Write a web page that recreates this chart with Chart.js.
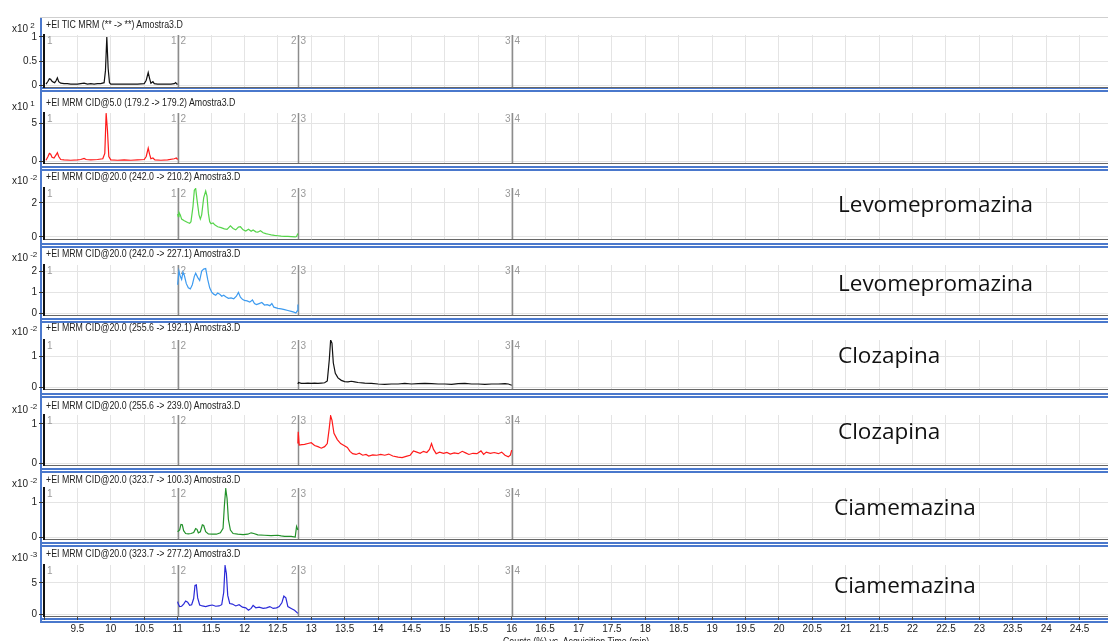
<!DOCTYPE html>
<html><head><meta charset="utf-8">
<script src="https://cdn.jsdelivr.net/npm/chart.js@4.4.0/dist/chart.umd.min.js"></script>
<style>
html,body{margin:0;padding:0;background:#fff;overflow:hidden;width:1108px;height:641px;}
#wrap{position:relative;width:1108px;height:641px;overflow:hidden;background:#fff;}
canvas{position:absolute;left:0;}
.hdr{position:absolute;left:46px;font-size:10px;font-family:"Liberation Sans",Arial,sans-serif;color:#222;white-space:nowrap;line-height:12px;transform:scaleX(0.88);transform-origin:0 0;}
.exp{position:absolute;left:12px;font-size:10px;font-family:"Liberation Sans",Arial,sans-serif;color:#222;white-space:nowrap;line-height:12px;}
.exp sup{font-size:8px;vertical-align:4px;margin-left:2px;}
.cmp{position:absolute;font-family:"Open Sans",sans-serif;font-size:22.5px;color:#111;white-space:nowrap;line-height:26px;}
.hl{position:absolute;left:40px;width:1100px;height:2px;background:#4a78cc;}
.vl{position:absolute;left:40px;width:2px;top:17px;height:604px;background:#4a78cc;}
.xt{position:absolute;left:503px;top:636px;font-size:10px;font-family:"Liberation Sans",Arial,sans-serif;color:#222;white-space:nowrap;transform:scaleX(0.88);transform-origin:0 0;}
</style>
</head><body>
<div id="wrap"></div>
<script>
// ---------- DATA ----------
const timeMin = 9, timeMax = 25, timeStep = 0.5;
const segmentBounds = [11, 12.8, 16];
const panelTitles = [
  '+EI TIC MRM (** -> **) Amostra3.D',
  '+EI MRM CID@5.0 (179.2 -> 179.2) Amostra3.D',
  '+EI MRM CID@20.0 (242.0 -> 210.2) Amostra3.D',
  '+EI MRM CID@20.0 (242.0 -> 227.1) Amostra3.D',
  '+EI MRM CID@20.0 (255.6 -> 192.1) Amostra3.D',
  '+EI MRM CID@20.0 (255.6 -> 239.0) Amostra3.D',
  '+EI MRM CID@20.0 (323.7 -> 100.3) Amostra3.D',
  '+EI MRM CID@20.0 (323.7 -> 277.2) Amostra3.D'
];
const scaleExponents = ['2', '1', '-2', '-2', '-2', '-2', '-2', '-3'];
const yTickValues = [[0, 0.5, 1], [0, 5], [0, 2], [0, 1, 2], [0, 1], [0, 1], [0, 1], [0, 5]];
const compoundNames = ['', '', 'Levomepromazina', 'Levomepromazina', 'Clozapina', 'Clozapina', 'Ciamemazina', 'Ciamemazina'];
const xAxisTitle = 'Counts (%) vs. Acquisition Time (min)';

const ticTime = [9.03,9.06,9.08,9.1,9.12,9.14,9.16,9.18,9.2,9.22,9.25,9.3,9.35,9.4,9.5,9.55,9.6,9.65,9.7,9.75,9.8,9.85,9.9,9.92,9.94,9.96,9.98,10.0,10.1,10.2,10.3,10.4,10.5,10.53,10.56,10.58,10.6,10.63,10.65,10.7,10.8,10.9,10.95,10.97,10.99,11.0];
const ticCounts = [0.02,0.08,0.13,0.12,0.08,0.06,0.05,0.09,0.15,0.07,0.04,0.03,0.03,0.02,0.02,0.03,0.04,0.02,0.03,0.02,0.03,0.03,0.05,0.3,1.0,0.35,0.05,0.02,0.02,0.02,0.02,0.02,0.03,0.1,0.26,0.14,0.04,0.07,0.03,0.02,0.02,0.02,0.03,0.05,0.02,0.02];

const m179Time = [9.03,9.06,9.08,9.1,9.12,9.15,9.18,9.2,9.22,9.25,9.3,9.4,9.5,9.55,9.6,9.63,9.7,9.8,9.88,9.91,9.93,9.95,9.97,10.0,10.1,10.2,10.3,10.4,10.5,10.53,10.56,10.58,10.6,10.63,10.66,10.75,10.85,10.95,10.98,11.0];
const m179Counts = [0.1,0.6,1.0,0.9,0.5,0.4,0.8,1.1,0.6,0.2,0.15,0.1,0.15,0.2,0.35,0.2,0.15,0.2,0.3,1.0,6.3,4.0,0.6,0.15,0.1,0.15,0.1,0.15,0.2,0.6,1.7,0.9,0.3,0.4,0.15,0.1,0.15,0.3,0.4,0.2];

const m210Time = [11.0,11.01,11.02,11.04,11.06,11.1,11.15,11.18,11.2,11.23,11.25,11.27,11.29,11.32,11.34,11.36,11.39,11.42,11.44,11.46,11.48,11.5,11.53,11.56,11.6,11.65,11.7,11.74,11.79,11.83,11.87,11.91,11.94,11.98,12.02,12.06,12.1,12.13,12.17,12.2,12.24,12.28,12.32,12.36,12.4,12.45,12.5,12.55,12.6,12.65,12.7,12.76,12.78,12.8];
const m210Counts = [1.35,1.2,1.45,1.3,1.05,0.95,0.85,0.8,0.9,1.8,2.75,2.85,2.2,1.3,1.05,1.3,2.3,2.7,2.4,1.4,0.9,0.78,0.82,0.7,0.6,0.55,0.48,0.45,0.65,0.5,0.42,0.58,0.6,0.42,0.35,0.45,0.33,0.41,0.3,0.28,0.37,0.25,0.2,0.16,0.12,0.09,0.07,0.05,0.04,0.03,0.02,0.0,0.03,0.2];

const m227Time = [11.0,11.02,11.04,11.06,11.08,11.1,11.13,11.16,11.19,11.22,11.25,11.27,11.3,11.33,11.36,11.39,11.42,11.45,11.48,11.51,11.54,11.57,11.6,11.63,11.66,11.69,11.72,11.76,11.8,11.84,11.88,11.91,11.94,11.97,12.0,12.04,12.08,12.12,12.15,12.18,12.22,12.26,12.3,12.34,12.38,12.41,12.44,12.5,12.55,12.6,12.65,12.7,12.74,12.77,12.79,12.8];
const m227Counts = [1.35,2.0,1.75,1.6,1.95,1.8,1.4,1.2,1.15,1.35,1.75,1.9,1.7,1.55,2.0,2.1,2.12,1.6,1.2,1.0,0.9,0.85,0.95,0.9,0.8,0.85,0.78,0.7,0.72,0.68,0.8,0.98,0.75,0.65,0.6,0.58,0.52,0.62,0.45,0.4,0.45,0.5,0.38,0.4,0.35,0.45,0.28,0.22,0.2,0.16,0.12,0.08,0.04,0.0,0.1,0.4];

const m192Time = [12.8,12.81,12.85,12.9,12.95,13.0,13.05,13.1,13.15,13.2,13.24,13.27,13.29,13.31,13.33,13.36,13.4,13.45,13.5,13.55,13.6,13.65,13.7,13.8,13.9,14.0,14.1,14.2,14.3,14.4,14.5,14.6,14.7,14.8,14.9,15.0,15.1,15.2,15.3,15.4,15.5,15.6,15.7,15.8,15.9,15.95,16.0];
const m192Counts = [0.1,0.15,0.12,0.12,0.13,0.12,0.13,0.12,0.13,0.14,0.2,0.9,1.55,1.45,0.8,0.45,0.3,0.22,0.18,0.17,0.19,0.17,0.15,0.13,0.12,0.1,0.09,0.1,0.1,0.12,0.1,0.11,0.12,0.11,0.1,0.1,0.09,0.11,0.12,0.1,0.1,0.09,0.1,0.1,0.11,0.1,0.06];

const m239Time = [12.8,12.805,12.82,12.86,12.9,12.95,13.0,13.05,13.1,13.15,13.2,13.24,13.27,13.29,13.31,13.34,13.39,13.44,13.49,13.54,13.58,13.62,13.67,13.72,13.77,13.82,13.86,13.92,13.98,14.04,14.1,14.16,14.22,14.3,14.36,14.42,14.48,14.53,14.58,14.63,14.68,14.73,14.77,14.8,14.83,14.87,14.92,14.98,15.03,15.08,15.14,15.2,15.26,15.31,15.36,15.42,15.48,15.54,15.58,15.62,15.68,15.74,15.8,15.85,15.9,15.95,15.98,16.0];
const m239Counts = [0.5,0.8,0.46,0.47,0.48,0.5,0.52,0.45,0.42,0.38,0.42,0.5,0.9,1.21,1.1,0.76,0.6,0.5,0.45,0.4,0.3,0.24,0.22,0.25,0.2,0.22,0.18,0.21,0.2,0.22,0.2,0.23,0.18,0.15,0.14,0.17,0.2,0.31,0.28,0.25,0.3,0.27,0.35,0.5,0.35,0.24,0.28,0.25,0.27,0.23,0.26,0.24,0.3,0.26,0.22,0.25,0.24,0.31,0.22,0.28,0.25,0.27,0.24,0.28,0.2,0.16,0.2,0.33];

const m100Time = [11.0,11.03,11.05,11.07,11.09,11.12,11.16,11.2,11.24,11.27,11.29,11.31,11.34,11.37,11.39,11.42,11.46,11.52,11.58,11.64,11.68,11.7,11.72,11.74,11.76,11.79,11.83,11.9,11.98,12.05,12.1,12.14,12.2,12.3,12.4,12.5,12.55,12.6,12.7,12.76,12.78,12.8];
const m100Counts = [0.15,0.2,0.36,0.35,0.18,0.1,0.09,0.1,0.13,0.24,0.22,0.12,0.15,0.35,0.33,0.15,0.09,0.08,0.08,0.12,0.25,0.9,1.38,1.1,0.5,0.2,0.1,0.08,0.07,0.08,0.12,0.1,0.06,0.05,0.04,0.05,0.03,0.02,0.02,0.0,0.3,0.2];

const m277Time = [11.0,11.01,11.03,11.06,11.09,11.12,11.15,11.18,11.21,11.24,11.26,11.28,11.3,11.33,11.37,11.42,11.47,11.52,11.57,11.62,11.66,11.69,11.71,11.73,11.75,11.78,11.82,11.87,11.92,11.97,12.02,12.06,12.1,12.13,12.17,12.22,12.28,12.33,12.38,12.43,12.48,12.52,12.56,12.59,12.62,12.65,12.7,12.75,12.8];
const m277Counts = [2.0,1.6,1.2,1.25,1.6,2.1,1.9,1.4,1.5,2.5,4.6,4.7,2.6,1.45,1.3,1.2,1.35,1.45,1.25,1.3,1.5,3.5,7.8,6.5,3.0,1.7,1.6,1.3,1.5,1.1,1.0,0.6,0.9,1.4,1.0,1.1,0.9,1.0,1.2,0.9,1.0,1.2,1.8,2.9,2.6,1.2,0.9,0.6,0.1];

const seriesTimes = [ticTime, m179Time, m210Time, m227Time, m192Time, m239Time, m100Time, m277Time];
const seriesCounts = [ticCounts, m179Counts, m210Counts, m227Counts, m192Counts, m239Counts, m100Counts, m277Counts];

// ---------- STYLE / LAYOUT ----------
const traceColors = ['#111111', '#ff1a1a', '#55d44a', '#3d9bf0', '#111111', '#ff1a1a', '#22912a', '#2a2ad8'];
const panelLayout = [
  {hdr:25,  top:35,  bottom:87,  yMin:-0.04,  yMax:1.04},
  {hdr:103, top:113, bottom:163, yMin:-0.26,  yMax:6.32},
  {hdr:177, top:188, bottom:239, yMin:-0.12,  yMax:2.88},
  {hdr:254, top:265, bottom:315, yMin:-0.095, yMax:2.29},
  {hdr:328, top:340, bottom:389, yMin:-0.065, yMax:1.55},
  {hdr:406, top:415, bottom:465, yMin:-0.05,  yMax:1.23},
  {hdr:480, top:488, bottom:539, yMin:-0.057, yMax:1.4},
  {hdr:554, top:565, bottom:616, yMin:-0.32,  yMax:7.9}
];
const cmpPos = [null, null, {x:838,y:204}, {x:838,y:283}, {x:838,y:355}, {x:838,y:431}, {x:834,y:507}, {x:834,y:585}];
const blueLineTops = [87, 90, 166, 169, 243, 246, 318, 321, 393, 396, 468, 471, 542, 545, 618, 621];
const FONT = '"Liberation Sans",Arial,sans-serif';
const AXIS_W = 44;
const CANVAS_W = 1113;
const PAD = 8;

const wrap = document.getElementById('wrap');
function addDiv(cls, css, html) {
  const d = document.createElement('div');
  d.className = cls;
  Object.assign(d.style, css);
  if (html !== undefined) d.innerHTML = html;
  wrap.appendChild(d);
  return d;
}

const segPlugin = {
  id: 'segments',
  beforeDatasetsDraw(chart) {
    const {ctx, chartArea} = chart;
    const xs = chart.scales.x;
    ctx.save();
    ctx.font = '10px ' + FONT;
    ctx.textBaseline = 'top';
    ctx.fillStyle = '#9a9a9a';
    ctx.textAlign = 'left';
    ctx.fillText('1', chartArea.left + 3, chartArea.top + 1);
    segmentBounds.forEach((b, i) => {
      const px = Math.round(xs.getPixelForValue(b)) + 0.5;
      ctx.strokeStyle = '#8c8c8c';
      ctx.lineWidth = 1.5;
      ctx.beginPath();
      ctx.moveTo(px, chartArea.top);
      ctx.lineTo(px, chartArea.bottom);
      ctx.stroke();
      ctx.textAlign = 'right';
      ctx.fillText(String(i + 1), px - 2, chartArea.top + 1);
      ctx.textAlign = 'left';
      ctx.fillText(String(i + 2), px + 2, chartArea.top + 1);
    });
    ctx.restore();
  }
};

// frame
addDiv('vl', {});
addDiv('hl', {top:'17px', height:'1px', background:'#cfcfcf'});
blueLineTops.forEach(t => addDiv('hl', {top: t + 'px'}));

panelLayout.forEach((L, i) => {
  const isLast = i === panelLayout.length - 1;
  const plotH = L.bottom - L.top;
  const xAxisH = isLast ? 30 : 0;
  const padBottom = isLast ? 0 : PAD;
  const cvH = PAD + plotH + xAxisH + padBottom;
  const cv = document.createElement('canvas');
  cv.width = CANVAS_W; cv.height = cvH;
  cv.style.top = (L.top - PAD) + 'px';
  cv.style.width = CANVAS_W + 'px'; cv.style.height = cvH + 'px';
  wrap.appendChild(cv);

  const pts = seriesTimes[i].map((t, k) => ({x: t, y: seriesCounts[i][k]}));
  new Chart(cv.getContext('2d'), {
    type: 'line',
    data: {datasets: [{data: pts, borderColor: traceColors[i], borderWidth: 1.2, pointRadius: 0, tension: 0, fill: false}]},
    options: {
      responsive: false, animation: false, devicePixelRatio: 1,
      layout: {padding: {top: PAD, bottom: padBottom, left: 0, right: 0}},
      plugins: {legend: {display: false}, tooltip: {enabled: false}},
      scales: {
        x: {
          type: 'linear', min: timeMin, max: timeMax,
          afterBuildTicks: s => { const a = []; for (let v = timeMin; v <= timeMax + 1e-9; v += timeStep) a.push({value: +v.toFixed(2)}); s.ticks = a; },
          afterFit: s => { s.height = xAxisH; s.paddingLeft = 0; s.paddingRight = 0; },
          grid: {color: '#e4e4e4', drawTicks: isLast, tickLength: 4, tickColor: '#444'},
          border: {color: '#666', width: 1},
          ticks: {display: isLast, color: '#222', font: {family: FONT, size: 10}, padding: 3, maxRotation: 0, autoSkip: false,
                  callback: v => (v === timeMin || v === timeMax) ? '' : String(v)}
        },
        y: {
          type: 'linear', min: L.yMin, max: L.yMax,
          afterBuildTicks: s => { s.ticks = yTickValues[i].map(v => ({value: v})); },
          afterFit: s => { s.width = AXIS_W; s.paddingTop = 0; s.paddingBottom = 0; },
          grid: {color: '#e4e4e4', tickLength: 5, tickColor: '#333'},
          border: {color: '#111', width: 2},
          ticks: {color: '#222', font: {family: FONT, size: 10}, padding: 2, callback: v => String(v)}
        }
      }
    },
    plugins: [segPlugin]
  });

  addDiv('hdr', {top: (L.hdr - 6) + 'px'}, panelTitles[i]);
  addDiv('exp', {top: (L.hdr - 5) + 'px'}, 'x10<sup>' + scaleExponents[i] + '</sup>');
  if (compoundNames[i]) {
    addDiv('cmp', {left: cmpPos[i].x + 'px', top: (cmpPos[i].y - 13) + 'px'}, compoundNames[i]);
  }
});
addDiv('xt', {}, xAxisTitle);
</script>
</body></html>
